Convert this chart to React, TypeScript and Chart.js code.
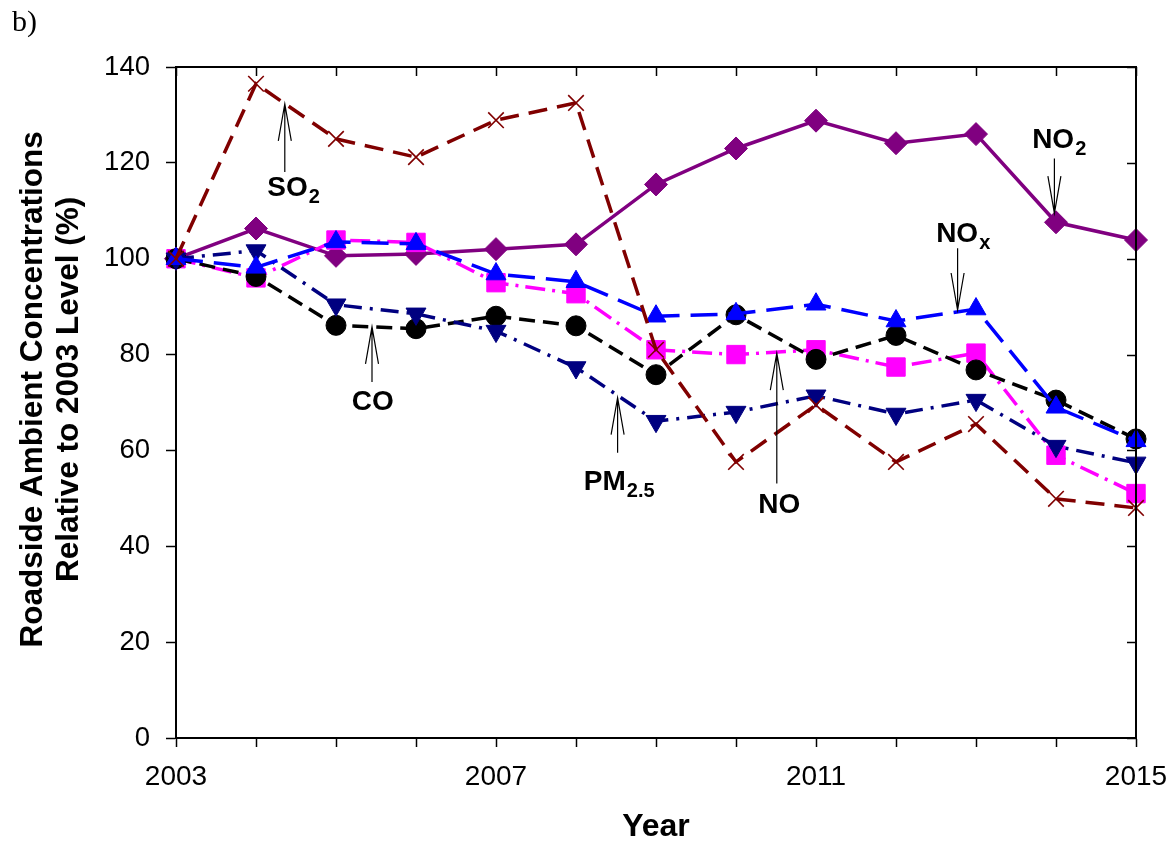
import React, { useEffect, useRef } from 'react';
import { Chart, registerables } from 'chart.js';

Chart.register(...registerables);

// ---- data ----
const years = [2003, 2004, 2005, 2006, 2007, 2008, 2009, 2010, 2011, 2012, 2013, 2014, 2015];
const no2 = [100, 106.3, 100.6, 101, 102, 103, 115.5, 123, 128.8, 124.1, 126, 107.6, 103.9];
const so2 = [100, 136.5, 125, 121.2, 128.9, 132.5, 81, 57.6, 69.5, 57.6, 65.5, 49.9, 48];
const nox = [100, 98.2, 103.5, 103.1, 96.8, 95.2, 88, 88.5, 90.5, 87, 89.5, 69, 62];
const no = [100, 96, 103.9, 103.4, 95, 92.7, 81, 80, 81, 77.4, 80.3, 59, 51];
const co = [100, 96.3, 86.1, 85.4, 88, 86, 75.8, 88.3, 79, 84, 76.8, 70.5, 62.4];
const pm25 = [100, 101.7, 90.4, 88.5, 84.9, 77.3, 66.1, 68, 71.4, 67.6, 70.5, 60.9, 57.4];

const xTickLabels = ['2003', '2007', '2011', '2015'];
const yMin = 0;
const yMax = 140;
const yStep = 20;

// ---- annotations (data units) ----
const annoMain = ['SO', 'CO', 'PM', 'NO', 'NO', 'NO'];
const annoSub = ['2', '', '2.5', '', 'x', '2'];
const annoLabelX = [2004.47, 2005.46, 2008.54, 2010.54, 2012.84, 2014.04];
const annoLabelY = [115.2, 70.5, 53.8, 49, 105.6, 125.2];
const annoArrowX = [2004.36, 2005.45, 2008.52, 2010.51, 2012.77, 2013.98];
const annoTailY = [118.1, 74.3, 59.5, 53.1, 102.2, 120.9];
const annoTipY = [132.3, 85.8, 71, 80.3, 89.3, 109.5];

const SANS = '"Liberation Sans", Arial, sans-serif';

const pts = (vals: number[]) => vals.map((v, i) => ({ x: years[i], y: v }));

const framePlugin = {
  id: 'frameTicks',
  afterDraw(chart: any) {
    const { ctx, chartArea: a, scales } = chart;
    ctx.save();
    ctx.strokeStyle = '#000';
    ctx.lineWidth = 2;
    ctx.beginPath();
    ctx.moveTo(a.left - 1, a.top);
    ctx.lineTo(a.right, a.top);
    ctx.lineTo(a.right, a.bottom + 1);
    ctx.stroke();
    ctx.lineWidth = 1.5;
    ctx.beginPath();
    years.forEach((yr) => {
      const px = Math.round(scales.x.getPixelForValue(yr)) + 0.5;
      ctx.moveTo(px, a.top);
      ctx.lineTo(px, a.top + 9);
    });
    for (let v = yMin; v <= yMax; v += yStep) {
      const py = Math.round(scales.y.getPixelForValue(v)) + 0.5;
      ctx.moveTo(a.right, py);
      ctx.lineTo(a.right - 9, py);
    }
    ctx.stroke();
    ctx.restore();
  },
};

const annotationPlugin = {
  id: 'arrowLabels',
  afterDraw(chart: any) {
    const { ctx, scales } = chart;
    const xs = scales.x;
    const ys = scales.y;
    ctx.save();
    ctx.fillStyle = '#000';
    ctx.strokeStyle = '#000';
    for (let i = 0; i < annoMain.length; i++) {
      const ax = xs.getPixelForValue(annoArrowX[i]);
      const tailY = ys.getPixelForValue(annoTailY[i]);
      const tipY = ys.getPixelForValue(annoTipY[i]);
      const dir = tipY < tailY ? 1 : -1;
      const headLen = 37;
      const headHalf = 6.5;
      ctx.lineWidth = 1.2;
      ctx.beginPath();
      ctx.moveTo(ax, tailY);
      ctx.lineTo(ax, tipY);
      ctx.moveTo(ax - headHalf, tipY + dir * headLen);
      ctx.lineTo(ax, tipY);
      ctx.lineTo(ax + headHalf, tipY + dir * headLen);
      ctx.stroke();

      const mainFont = `bold 28px ${SANS}`;
      const subFont = `bold 20px ${SANS}`;
      ctx.font = mainFont;
      const mw = ctx.measureText(annoMain[i]).width;
      ctx.font = subFont;
      const sw = annoSub[i] ? ctx.measureText(annoSub[i]).width + 1 : 0;
      const cx = xs.getPixelForValue(annoLabelX[i]);
      const cy = ys.getPixelForValue(annoLabelY[i]);
      const base = cy + 10;
      const x0 = cx - (mw + sw) / 2;
      ctx.textAlign = 'left';
      ctx.textBaseline = 'alphabetic';
      ctx.font = mainFont;
      ctx.fillText(annoMain[i], x0, base);
      if (annoSub[i]) {
        ctx.font = subFont;
        ctx.fillText(annoSub[i], x0 + mw + 1, base + 7);
      }
    }
    ctx.restore();
  },
};

export default function App() {
  const ref = useRef<HTMLCanvasElement>(null);

  useEffect(() => {
    const canvas = ref.current;
    if (!canvas) return;
    const base = { showLine: true, tension: 0, clip: false as any, borderWidth: 3.5, pointBorderWidth: 1 };
    const chart = new Chart(canvas, {
      type: 'scatter',
      data: {
        datasets: [
          {
            ...base,
            label: 'SO2',
            data: pts(so2),
            borderColor: '#800000',
            backgroundColor: '#800000',
            borderDash: [19, 10],
            pointStyle: 'crossRot',
            pointRadius: 11,
            pointBorderWidth: 1.6,
            pointBorderColor: '#800000',
            order: 0,
          },
          {
            ...base,
            label: 'NOx',
            data: pts(nox),
            borderColor: '#0000ff',
            backgroundColor: '#0000ff',
            borderDash: [27, 11],
            pointStyle: 'triangle',
            pointRadius: 11.5,
            order: 1,
          },
          {
            ...base,
            label: 'PM2.5',
            data: pts(pm25),
            borderColor: '#000080',
            backgroundColor: '#000080',
            borderDash: [18, 8, 3, 8],
            pointStyle: 'triangle',
            rotation: 180,
            pointRadius: 11.5,
            order: 2,
          },
          {
            ...base,
            label: 'CO',
            data: pts(co),
            borderColor: '#000000',
            backgroundColor: '#000000',
            borderDash: [16, 8],
            pointStyle: 'circle',
            pointRadius: 10,
            order: 3,
          },
          {
            ...base,
            label: 'NO',
            data: pts(no),
            borderColor: '#ff00ff',
            backgroundColor: '#ff00ff',
            borderDash: [20, 7, 3, 7],
            pointStyle: 'rect',
            pointRadius: 13,
            order: 4,
          },
          {
            ...base,
            label: 'NO2',
            data: pts(no2),
            borderColor: '#800080',
            backgroundColor: '#800080',
            pointStyle: 'rectRot',
            pointRadius: 11.5,
            order: 5,
          },
        ] as any,
      },
      options: {
        responsive: false,
        animation: false,
        devicePixelRatio: 1,
        events: [],
        layout: { padding: { left: 0, top: 67, right: 39, bottom: 0 } },
        plugins: {
          legend: { display: false },
          tooltip: { enabled: false },
          title: { display: false },
        },
        scales: {
          x: {
            type: 'linear',
            position: 'bottom',
            min: years[0],
            max: years[years.length - 1],
            afterFit: (s: any) => {
              s.height = 108;
              s.paddingLeft = 0;
              s.paddingRight = 0;
            },
            ticks: {
              stepSize: 1,
              autoSkip: false,
              maxRotation: 0,
              minRotation: 0,
              padding: 13,
              color: '#000',
              font: { family: SANS, size: 28 },
              callback: (v: any) => (xTickLabels.includes(String(v)) ? String(v) : ''),
            },
            grid: {
              drawOnChartArea: false,
              drawTicks: true,
              tickLength: 9,
              tickColor: '#000',
              tickWidth: 1.5,
            },
            border: { display: true, color: '#000', width: 2 },
            title: {
              display: true,
              text: 'Year',
              color: '#000',
              font: { family: SANS, size: 32, weight: 'bold' },
              padding: { top: 0, bottom: 0 },
            },
          },
          y: {
            type: 'linear',
            position: 'left',
            min: yMin,
            max: yMax,
            afterFit: (s: any) => {
              s.width = 176;
              s.paddingTop = 0;
              s.paddingBottom = 0;
            },
            ticks: {
              stepSize: yStep,
              padding: 16,
              color: '#000',
              font: { family: SANS, size: 27.5 },
            },
            grid: {
              drawOnChartArea: false,
              drawTicks: true,
              tickLength: 10,
              tickColor: '#000',
              tickWidth: 1.5,
            },
            border: { display: true, color: '#000', width: 2 },
            title: {
              display: true,
              text: ['   Roadside Ambient Concentrations', '   Relative to 2003 Level (%)'],
              color: '#000',
              font: { family: SANS, size: 31.5, weight: 'bold', lineHeight: 1.16 },
              padding: { top: 15, bottom: 0 },
            },
          },
        },
      } as any,
      plugins: [framePlugin, annotationPlugin],
    });
    return () => chart.destroy();
  }, []);

  return (
    <div style={{ position: 'absolute', left: 0, top: 0, width: 1175, height: 846, background: '#fff' }}>
      <div
        style={{
          position: 'absolute',
          left: 12,
          top: 6,
          font: '30px "Liberation Serif", "Times New Roman", serif',
          lineHeight: '30px',
          color: '#000',
        }}
      >
        b)
      </div>
      <canvas ref={ref} width={1175} height={846} style={{ display: 'block' }} />
    </div>
  );
}
